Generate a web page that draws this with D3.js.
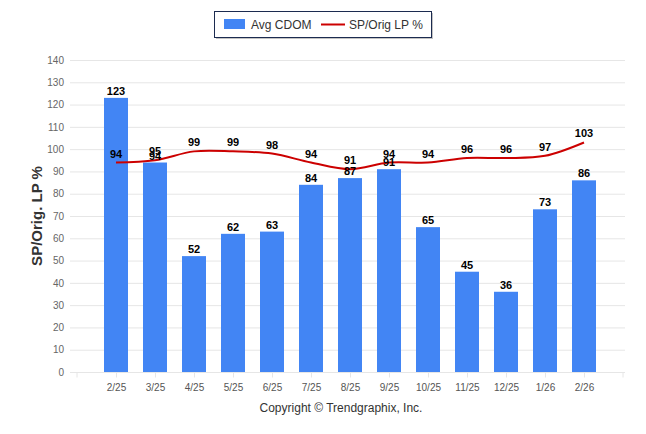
<!DOCTYPE html>
<html>
<head>
<meta charset="utf-8">
<script src="https://cdn.jsdelivr.net/npm/d3@7"></script>
<style>
  body { margin: 0; background: #fff; }
  svg { font-family: "Liberation Sans", Arial, sans-serif; }
</style>
</head>
<body>
<svg id="chart" width="646" height="434"></svg>
<script>
// chart data
var months = ["2/25", "3/25", "4/25", "5/25", "6/25", "7/25", "8/25", "9/25", "10/25", "11/25", "12/25", "1/26", "2/26"];
var avgCdom = [123, 94, 52, 62, 63, 84, 87, 91, 65, 45, 36, 73, 86];
var spOrig = [94, 95, 99, 99, 98, 94, 91, 94, 94, 96, 96, 97, 103];
var yTicks = [0, 10, 20, 30, 40, 50, 60, 70, 80, 90, 100, 110, 120, 130, 140];

var svg = d3.select("#chart");

// plot area
var plotLeft = 77, plotRight = 623, plotTop = 60, plotBottom = 372;
var barW = 24;

var x = d3.scaleLinear([-1, months.length], [plotLeft, plotRight]);
var y = d3.scaleLinear([0, 140], [plotBottom, plotTop]);

// grid lines
svg.append("g").selectAll("line")
    .data(yTicks)
    .enter().append("line")
    .attr("x1", 70).attr("x2", 625)
    .attr("y1", function (d) { return y(d) + 0.5; })
    .attr("y2", function (d) { return y(d) + 0.5; })
    .attr("stroke", "#e6e6e6");

// y axis labels
var yAxis = d3.axisLeft(y).tickValues(yTicks).tickSize(0).tickPadding(6);
var gy = svg.append("g").attr("transform", "translate(70,0)").call(yAxis);
gy.select(".domain").remove();
gy.selectAll("text").attr("fill", "#666").style("font-size", "10px")
    .style("font-family", "'Liberation Sans', Arial, sans-serif");

// x axis
var xAxis = d3.axisBottom(x).tickValues(d3.range(months.length))
    .tickFormat(function (d) { return months[d]; })
    .tickSize(5).tickSizeOuter(0).tickPadding(6);
var gx = svg.append("g").attr("transform", "translate(0," + (plotBottom + 0.5) + ")").call(xAxis);
gx.select(".domain").attr("stroke", "#e6e6e6").attr("d", "M" + plotLeft + ",0H" + plotRight);
gx.selectAll(".tick line").attr("stroke", "#e6e6e6");
gx.selectAll("text").attr("fill", "#555").style("font-size", "10px")
    .style("font-family", "'Liberation Sans', Arial, sans-serif");
// end ticks
gx.selectAll(".endtick").data([plotLeft, plotRight]).enter().append("line")
    .attr("x1", function (d) { return d; }).attr("x2", function (d) { return d; })
    .attr("y1", 0).attr("y2", 5).attr("stroke", "#e6e6e6");

// bars
svg.append("g").selectAll("rect")
    .data(avgCdom)
    .enter().append("rect")
    .attr("x", function (d, i) { return x(i) - barW / 2; })
    .attr("y", function (d) { return y(d); })
    .attr("width", barW)
    .attr("height", function (d) { return plotBottom - y(d); })
    .attr("fill", "#4285f4");

// line
var line = d3.line()
    .x(function (d, i) { return x(i); })
    .y(function (d) { return y(d); })
    .curve(d3.curveCatmullRom.alpha(0.5));
svg.append("path")
    .datum(spOrig)
    .attr("d", line)
    .attr("fill", "none")
    .attr("stroke", "#cc0000")
    .attr("stroke-width", 2);

// value labels
var labelStyle = function (sel) {
    sel.attr("text-anchor", "middle")
        .attr("font-size", "11px")
        .attr("font-weight", "bold")
        .attr("fill", "#000");
};
svg.append("g").selectAll("text")
    .data(avgCdom)
    .enter().append("text")
    .attr("x", function (d, i) { return x(i); })
    .attr("y", function (d) { return y(d) - 3; })
    .text(function (d) { return d; })
    .call(labelStyle);
svg.append("g").selectAll("text")
    .data(spOrig)
    .enter().append("text")
    .attr("x", function (d, i) { return x(i); })
    .attr("y", function (d) { return y(d) - 5; })
    .text(function (d) { return d; })
    .call(labelStyle);

// y title
svg.append("text")
    .attr("transform", "translate(42," + ((plotTop + plotBottom) / 2) + ") rotate(-90)")
    .attr("text-anchor", "middle")
    .attr("font-size", "15px")
    .attr("font-weight", "bold")
    .attr("fill", "#333")
    .text("SP/Orig. LP %");

// legend
var lg = svg.append("g");
lg.append("rect").attr("x", 216).attr("y", 13).attr("width", 217).attr("height", 26)
    .attr("fill", "#888").attr("opacity", 0.5);
lg.append("rect").attr("x", 214.5).attr("y", 11.5).attr("width", 217).attr("height", 26)
    .attr("fill", "#fff").attr("stroke", "#1c2b50").attr("stroke-width", 1);
lg.append("rect").attr("x", 224).attr("y", 19).attr("width", 21).attr("height", 10).attr("fill", "#4285f4");
lg.append("text").attr("x", 251).attr("y", 29).attr("font-size", "12px").attr("fill", "#333").text("Avg CDOM");
lg.append("line").attr("x1", 321).attr("x2", 345).attr("y1", 24.5).attr("y2", 24.5)
    .attr("stroke", "#cc0000").attr("stroke-width", 2);
lg.append("text").attr("x", 349).attr("y", 29).attr("font-size", "12px").attr("fill", "#333").text("SP/Orig LP %");

// copyright
svg.append("text")
    .attr("x", 341).attr("y", 412)
    .attr("text-anchor", "middle")
    .attr("font-size", "12px")
    .attr("fill", "#333")
    .text("Copyright \u00a9 Trendgraphix, Inc.");
</script>
</body>
</html>
